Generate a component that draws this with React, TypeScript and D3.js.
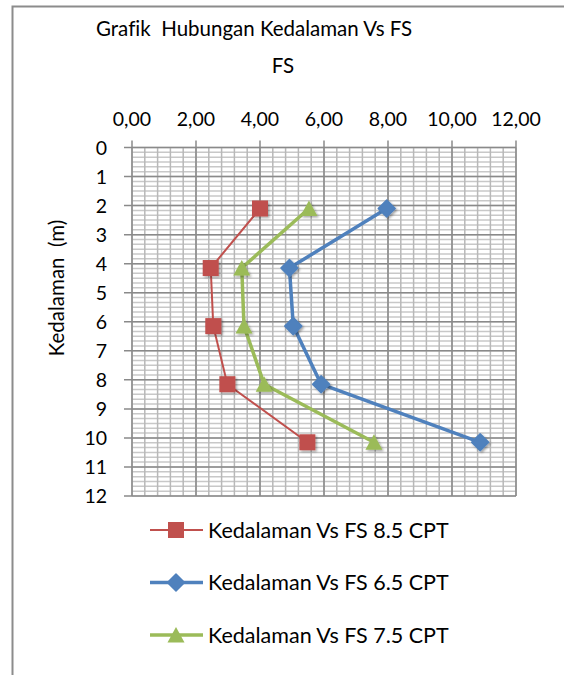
import React from "react";
import * as d3 from "d3";

// Depth of each reading (m) and the factor of safety from each CPT run
const depths = [2.1, 4.15, 6.15, 8.15, 10.15];
const fs85 = [4.0, 2.46, 2.54, 2.98, 5.48];
const fs65 = [7.96, 4.92, 5.04, 5.91, 10.88];
const fs75 = [5.53, 3.43, 3.5, 4.13, 7.56];

const xTicks = [0, 2, 4, 6, 8, 10, 12];
const yTicks = [0, 1, 2, 3, 4, 5, 6, 7, 8, 9, 10, 11, 12];
const seriesNames = [
  "Kedalaman Vs FS 8.5 CPT",
  "Kedalaman Vs FS 6.5 CPT",
  "Kedalaman Vs FS 7.5 CPT",
];

const W = 564;
const H = 675;
const FONT = "Lato, sans-serif";

type Series = {
  name: string;
  values: number[];
  color: string;
  width: number;
  marker: "square" | "diamond" | "triangle";
};

const series: Series[] = [
  { name: seriesNames[0], values: fs85, color: "#C0504D", width: 2, marker: "square" },
  { name: seriesNames[1], values: fs65, color: "#4F81BD", width: 3.5, marker: "diamond" },
  { name: seriesNames[2], values: fs75, color: "#9BBB59", width: 3.5, marker: "triangle" },
];

function Marker({ kind, x, y, color }: { kind: Series["marker"]; x: number; y: number; color: string }) {
  if (kind === "square") {
    return <rect x={x - 8} y={y - 8} width={16} height={16} fill={color} />;
  }
  if (kind === "diamond") {
    const r = 8.5;
    return (
      <path
        d={`M${x},${y - r}L${x + r},${y}L${x},${y + r}L${x - r},${y}Z`}
        fill={color}
        stroke={color}
        strokeWidth={1.5}
        strokeLinejoin="round"
      />
    );
  }
  return <path d={`M${x},${y - 8}L${x + 8.5},${y + 7.5}L${x - 8.5},${y + 7.5}Z`} fill={color} />;
}

export default function App() {
  const left = 132;
  const right = 516;
  const top = 147.5;
  const bottom = 496;

  const x = d3.scaleLinear().domain([0, 12]).range([left, right]);
  const y = d3.scaleLinear().domain([0, 12]).range([top, bottom]);

  const minorX = d3.range(0, 12.0001, 0.4);
  const minorY = d3.range(0, 72.5, 1).map((i) => i / 6);

  const line = d3
    .line<[number, number]>()
    .x((d) => x(d[0]))
    .y((d) => y(d[1]));

  const fmt = (v: number) => v.toFixed(2).replace(".", ",");

  return (
    <svg
      width={W}
      height={H}
      style={{ position: "absolute", left: 0, top: 0, background: "#fff", fontVariantLigatures: "none" }}
      fontFamily={FONT}
    >
      <defs>
        <filter id="shadow" x="-50%" y="-50%" width="200%" height="200%">
          <feDropShadow dx="1.5" dy="1.5" stdDeviation="1.2" floodColor="#000" floodOpacity="0.35" />
        </filter>
      </defs>
      {/* chart frame */}
      <path d={`M12.5,${H}V6.5H${W}`} fill="none" stroke="#8c8c8c" strokeWidth={2} />

      <text x={96} y={36} fontSize={20.5} fill="#000" style={{ whiteSpace: "pre" }}>
        Grafik  Hubungan Kedalaman Vs FS
      </text>
      <text x={283} y={73} textAnchor="middle" fontSize={20.5} fill="#000">
        FS
      </text>

      {/* minor grid */}
      {minorY.map((v, i) => (
        <line key={"my" + i} x1={left} x2={right} y1={y(v)} y2={y(v)} stroke="#c8c8c8" strokeWidth={1.5} />
      ))}
      {minorX.map((v, i) => (
        <line key={"mx" + i} x1={x(v)} x2={x(v)} y1={top} y2={bottom} stroke="#b8b8b8" strokeWidth={1.5} />
      ))}
      {/* major grid with outside tick marks */}
      {yTicks.map((v) => (
        <line key={"gy" + v} x1={left - 8} x2={right} y1={y(v)} y2={y(v)} stroke="#8a8a8a" strokeWidth={1.5} />
      ))}
      {xTicks.map((v) => (
        <line key={"gx" + v} x1={x(v)} x2={x(v)} y1={top - 7} y2={bottom} stroke="#8a8a8a" strokeWidth={1.5} />
      ))}

      {/* tick labels */}
      {xTicks.map((v) => (
        <text key={"tx" + v} x={x(v)} y={126} textAnchor="middle" fontSize={19.5} fill="#000">
          {fmt(v)}
        </text>
      ))}
      {yTicks.map((v) => (
        <text key={"ty" + v} x={107} y={y(v)} dy="0.36em" textAnchor="end" fontSize={19.5} fill="#000">
          {v}
        </text>
      ))}
      <text
        transform={`translate(64,288) rotate(-90)`}
        textAnchor="middle"
        fontSize={20.5}
        fill="#000"
        style={{ whiteSpace: "pre" }}
      >
        Kedalaman  (m)
      </text>

      {/* series */}
      {series.map((s) => {
        const pts = s.values.map((v, i) => [v, depths[i]] as [number, number]);
        return (
          <g key={s.name}>
            <path d={line(pts) ?? ""} fill="none" stroke={s.color} strokeWidth={s.width} strokeLinejoin="round" />
            <g filter="url(#shadow)">
              {pts.map((p, i) => (
                <Marker key={i} kind={s.marker} x={x(p[0])} y={y(p[1])} color={s.color} />
              ))}
            </g>
          </g>
        );
      })}

      {/* legend */}
      {series.map((s, i) => {
        const cy = 530 + i * 52.5;
        return (
          <g key={"lg" + i}>
            <line x1={150} x2={203} y1={cy} y2={cy} stroke={s.color} strokeWidth={s.width} />
            <Marker kind={s.marker} x={176} y={cy} color={s.color} />
            <text x={208} y={cy} dy="0.36em" fontSize={21.5} fill="#000">
              {s.name}
            </text>
          </g>
        );
      })}
    </svg>
  );
}
